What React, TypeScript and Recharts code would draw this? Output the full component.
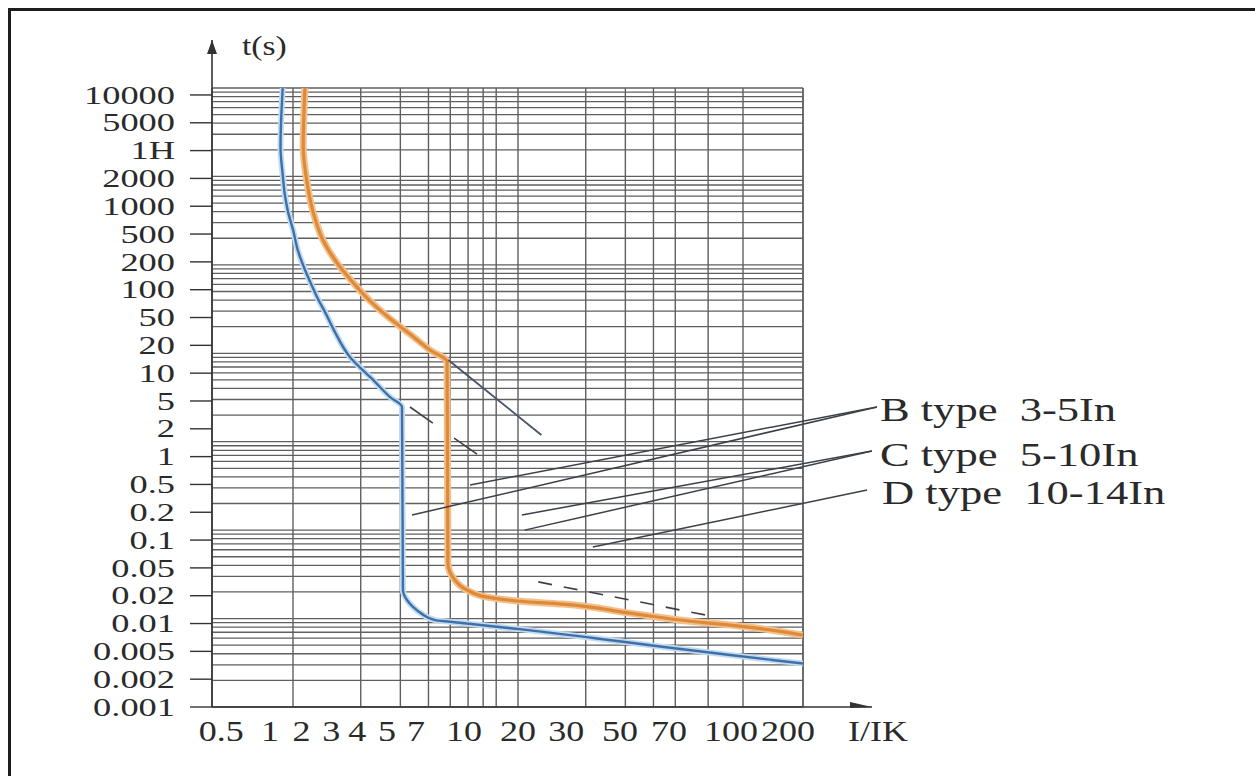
import React from "react"
import { LineChart, Line, XAxis, YAxis, CartesianGrid, ReferenceLine, ReferenceDot } from "recharts"

// tripping curves, I/In against time in seconds
const B_CURVE = [
  { i: 0.9, t: 10000 },
  { i: 0.88, t: 2150 },
  { i: 0.9, t: 1040 },
  { i: 0.92, t: 620 },
  { i: 0.95, t: 400 },
  { i: 1.0, t: 250 },
  { i: 1.05, t: 147 },
  { i: 1.13, t: 88 },
  { i: 1.21, t: 59 },
  { i: 1.28, t: 43 },
  { i: 1.39, t: 29 },
  { i: 1.52, t: 18.3 },
  { i: 1.79, t: 9.1 },
  { i: 2.27, t: 5.0 },
  { i: 2.7, t: 3.2 },
  { i: 3.05, t: 2.47 },
  { i: 3.08, t: 0.021 },
  { i: 3.21, t: 0.0162 },
  { i: 3.42, t: 0.0135 },
  { i: 3.74, t: 0.0113 },
  { i: 4.28, t: 0.0096 },
  { i: 5.0, t: 0.0092 },
  { i: 5.64, t: 0.0089 },
  { i: 11.1, t: 0.0074 },
  { i: 22, t: 0.006 },
  { i: 43.7, t: 0.0048 },
  { i: 85.8, t: 0.0039 },
  { i: 184.8, t: 0.0031 },
]

const C_CURVE = [
  { i: 1.13, t: 10000 },
  { i: 1.11, t: 2150 },
  { i: 1.15, t: 910 },
  { i: 1.23, t: 390 },
  { i: 1.36, t: 190 },
  { i: 1.57, t: 105 },
  { i: 1.86, t: 62 },
  { i: 2.18, t: 40 },
  { i: 2.68, t: 25 },
  { i: 3.31, t: 16.5 },
  { i: 4.06, t: 10.9 },
  { i: 4.84, t: 8.0 },
  { i: 4.88, t: 0.0425 },
  { i: 5.2, t: 0.028 },
  { i: 5.94, t: 0.021 },
  { i: 7.28, t: 0.0175 },
  { i: 9.9, t: 0.0158 },
  { i: 15.7, t: 0.0146 },
  { i: 30.8, t: 0.0116 },
  { i: 61.2, t: 0.0092 },
  { i: 85.8, t: 0.0085 },
  { i: 184.8, t: 0.0065 },
]

// axis labels as printed (y labels are evenly spaced, top to bottom)
const Y_LABELS = [
  "10000", "5000", "1H", "2000", "1000", "500", "200", "100", "50", "20", "10", "5",
  "2", "1", "0.5", "0.2", "0.1", "0.05", "0.02", "0.01", "0.005", "0.002", "0.001",
]
const X_LABELS = ["0.5", "1", "2", "3", "4", "5", "7", "10", "20", "30", "50", "70", "100", "200"]
// where the printed x labels sit on the log axis
const X_LABEL_AT = [0.48, 0.79, 1.09, 1.48, 1.93, 2.62, 3.52, 5.75, 10, 16.4, 28.4, 46.9, 88.4, 158.5]

const X_MIN = 0.4365
const X_MAX = 184.8
const Y_MIN = 0.001
const Y_MAX = 10000

const X_GRID = [1, 2, 3, 4, 5, 6, 7, 8, 9, 10, 20, 30, 40, 50, 60, 70, 80, 90, 100]
const Y_DECADES = [0.001, 0.01, 0.1, 1, 10, 100, 1000]
const Y_GRID = Y_DECADES.flatMap((d) => [1, 2, 3, 4, 5, 6, 7, 8, 9].map((m) => +(m * d).toPrecision(3))).concat(Y_MAX)

// annotation strokes
const TOLERANCE = [{ i: 4.9, t: 8.4 }, { i: 12.7, t: 1.19 }]
const DASH_UPPER = [{ i: 3.31, t: 2.47 }, { i: 6.64, t: 0.71 }]
const DASH_LOWER = [{ i: 12.3, t: 0.026 }, { i: 67.8, t: 0.011 }]
const LEADERS = [
  [{ i: 3.38, t: 0.148 }, { i: 394, t: 2.47 }],
  [{ i: 6.12, t: 0.324 }, { i: 394, t: 2.47 }],
  [{ i: 10.4, t: 0.148 }, { i: 374, t: 0.785 }],
  [{ i: 10.7, t: 0.1 }, { i: 374, t: 0.785 }],
  [{ i: 21.5, t: 0.0644 }, { i: 356, t: 0.284 }],
]
const TYPE_LABELS = [
  { text: "B type  3-5In", i: 406, t: 2.28 },
  { text: "C type  5-10In", i: 406, t: 0.708 },
  { text: "D type  10-14In", i: 415, t: 0.263 },
]

const SERIF = '"Liberation Serif", "DejaVu Serif", serif'
const INK = "#2a2a2a"
const GRID = "#5f5f5f"
const AXIS = "#333"
const NOTE = "#3c4048"

const seg = (p: { i: number; t: number }[]) => p.map((q) => ({ x: q.i, y: q.t }))

function YTick(props: any) {
  const { x, y, payload } = props
  const label = Y_LABELS[Y_LABELS.length - 1 - payload.value]
  return (
    <g transform={`translate(${x},${y}) scale(1.4,1)`}>
      <text textAnchor="end" dominantBaseline="central" fontSize={26} fontFamily={SERIF} fill={INK}>
        {label}
      </text>
    </g>
  )
}

function XTick(props: any) {
  const { x, y, payload } = props
  const k = X_LABEL_AT.indexOf(payload.value)
  return (
    <g transform={`translate(${x},${y + 22}) scale(1.2,1)`}>
      <text textAnchor="middle" dominantBaseline="central" fontSize={30} fontFamily={SERIF} fill={INK}>
        {X_LABELS[k]}
      </text>
    </g>
  )
}

function textShape(text: string, size: number, stretch: number, anchor: "start" | "middle") {
  return (p: any) => (
    <g transform={`translate(${p.cx},${p.cy}) scale(${stretch},1)`}>
      <text
        textAnchor={anchor}
        dominantBaseline="central"
        fontSize={size}
        fontFamily={SERIF}
        fill={INK}
        style={{ whiteSpace: "pre" }}
      >
        {text}
      </text>
    </g>
  )
}

const arrowUp = (p: any) => (
  <path d={`M${p.cx},${p.cy} L${p.cx - 5},${p.cy + 14} L${p.cx + 5},${p.cy + 14} Z`} fill={AXIS} />
)
const arrowRight = (p: any) => (
  <path d={`M${p.cx},${p.cy} L${p.cx - 22},${p.cy - 5} L${p.cx - 22},${p.cy + 1} Z`} fill={AXIS} />
)

export default function App() {
  const ids = { xAxisId: "x", yAxisId: "t" }
  return (
    <div
      style={{
        position: "fixed",
        left: 8,
        top: 8,
        width: 1247,
        height: 768,
        boxSizing: "border-box",
        borderTop: "3px solid #1e1e1e",
        borderLeft: "3px solid #1e1e1e",
        background: "#fff",
        overflow: "hidden",
      }}
    >
      <LineChart width={1244} height={765} margin={{ top: 77, right: 452, bottom: 19, left: 11 }}>
        <XAxis
          xAxisId="x"
          dataKey="i"
          type="number"
          scale="log"
          domain={[X_MIN, X_MAX]}
          allowDataOverflow
          ticks={X_LABEL_AT}
          interval={0}
          tick={XTick}
          tickLine={false}
          tickSize={0}
          height={50}
          axisLine={{ stroke: AXIS, strokeWidth: 1.6 }}
        />
        <XAxis
          xAxisId="xg"
          dataKey="i"
          type="number"
          scale="log"
          domain={[X_MIN, X_MAX]}
          allowDataOverflow
          ticks={X_GRID}
          hide
        />
        <YAxis
          yAxisId="t"
          type="number"
          scale="log"
          domain={[Y_MIN, Y_MAX]}
          allowDataOverflow
          ticks={Y_GRID}
          hide
        />
        <YAxis
          yAxisId="lab"
          type="number"
          domain={[0, 22.25]}
          allowDataOverflow
          ticks={Y_LABELS.map((_, k) => k)}
          interval={0}
          width={190}
          tickSize={22}
          tickMargin={15}
          tick={YTick}
          tickLine={{ stroke: AXIS, strokeWidth: 1.4 }}
          axisLine={{ stroke: AXIS, strokeWidth: 1.6 }}
        />
        <CartesianGrid xAxisId="xg" yAxisId="t" horizontal={false} stroke={GRID} strokeWidth={1.4} />
        {Y_GRID.map((v) => (
          <ReferenceLine key={v} {...ids} y={v} stroke={GRID} strokeWidth={1.3} ifOverflow="visible" />
        ))}
        <ReferenceLine {...ids} x={X_MAX} stroke={GRID} strokeWidth={1.4} ifOverflow="visible" />

        <Line {...ids} data={B_CURVE} dataKey="t" type="monotoneY" stroke="#c3dbef" strokeWidth={6} dot={false} activeDot={false} isAnimationActive={false} />
        <Line {...ids} data={B_CURVE} dataKey="t" type="monotoneY" stroke="#3d70a8" strokeWidth={2.4} dot={false} activeDot={false} isAnimationActive={false} />
        <Line {...ids} data={C_CURVE} dataKey="t" type="monotoneY" stroke="#f4c08a" strokeWidth={7} dot={false} activeDot={false} isAnimationActive={false} />
        <Line {...ids} data={C_CURVE} dataKey="t" type="monotoneY" stroke="#dd8a3a" strokeWidth={3.2} dot={false} activeDot={false} isAnimationActive={false} />

        <ReferenceLine {...ids} segment={seg(TOLERANCE)} stroke="#46536a" strokeWidth={1.8} ifOverflow="visible" />
        <ReferenceLine {...ids} segment={seg(DASH_UPPER)} stroke={NOTE} strokeWidth={1.6} strokeDasharray="28 26" ifOverflow="visible" />
        <ReferenceLine {...ids} segment={seg(DASH_LOWER)} stroke={NOTE} strokeWidth={1.6} strokeDasharray="14 12" ifOverflow="visible" />
        {LEADERS.map((l, k) => (
          <ReferenceLine key={k} {...ids} segment={seg(l)} stroke={NOTE} strokeWidth={1.5} ifOverflow="visible" />
        ))}
        {TYPE_LABELS.map((l) => (
          <ReferenceDot key={l.text} {...ids} x={l.i} y={l.t} ifOverflow="visible" shape={textShape(l.text, 33, 1.35, "start")} />
        ))}

        {/* axis arrows and titles */}
        <ReferenceLine {...ids} segment={[{ x: X_MIN, y: Y_MAX }, { x: X_MIN, y: 34900 }]} stroke={AXIS} strokeWidth={1.6} ifOverflow="visible" />
        <ReferenceDot {...ids} x={X_MIN} y={34900} ifOverflow="visible" shape={arrowUp} />
        <ReferenceLine {...ids} segment={[{ x: X_MAX, y: Y_MIN }, { x: 374.5, y: Y_MIN }]} stroke={AXIS} strokeWidth={1.6} ifOverflow="visible" />
        <ReferenceDot {...ids} x={374.5} y={Y_MIN} ifOverflow="visible" shape={arrowRight} />
        <ReferenceDot {...ids} x={0.593} y={30600} ifOverflow="visible" shape={textShape("t(s)", 28, 1.2, "start")} />
        <ReferenceDot {...ids} x={398} y={0.000536} ifOverflow="visible" shape={textShape("I/IK", 30, 1.2, "middle")} />
      </LineChart>
    </div>
  )
}
